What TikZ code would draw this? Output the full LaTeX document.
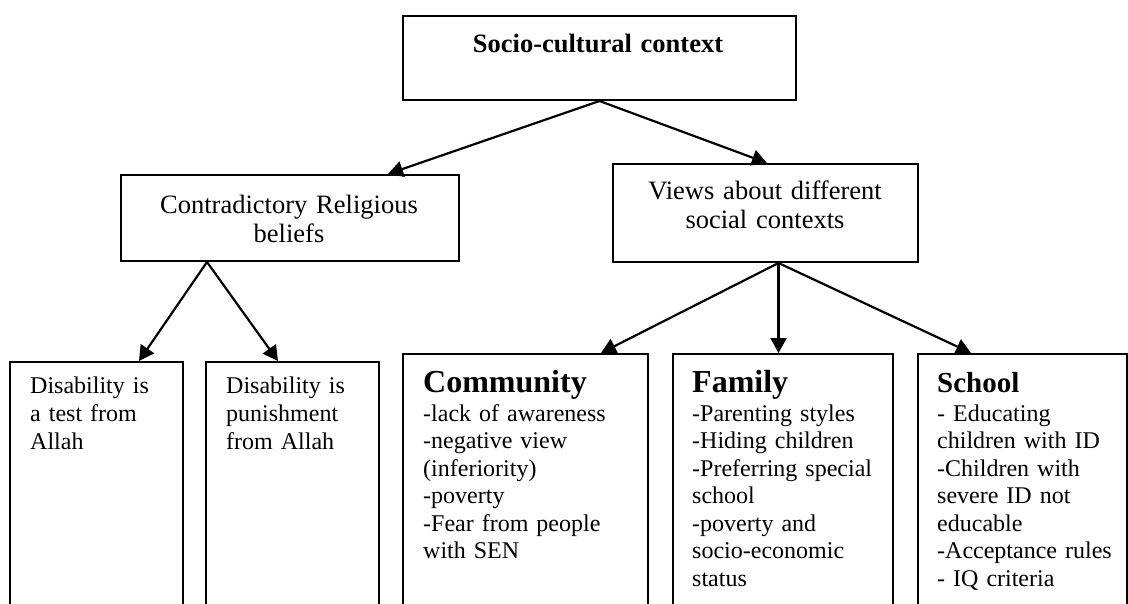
\documentclass[tikz,border=0pt]{standalone}
\usepackage{fontspec}
\setmainfont{Liberation Serif}
\usetikzlibrary{arrows.meta}
\begin{document}
\begin{tikzpicture}[x=1pt,y=-1pt,
  box/.style={draw,line width=2pt,inner sep=0pt,anchor=north west},
  arr/.style={line width=2.2pt,-{Triangle[length=15pt,width=16pt]}},
  upper/.style={font=\fontsize{26.5}{29.5}\selectfont,align=center,
    text width=330pt,inner sep=0pt,anchor=base},
  head/.style={font=\fontsize{32}{34}\selectfont\bfseries,inner sep=0pt,anchor=base west},
  body/.style={font=\fontsize{24}{27.5}\selectfont,align=left,
    text width=230pt,inner sep=0pt,anchor=base west},
]
\useasboundingbox (0,0) rectangle (1128,603);
\clip (0,0) rectangle (1128,603);

% boxes
\node[box,minimum width=393pt,minimum height=84pt] (top) at (402,15) {};
\node[box,minimum width=338pt,minimum height=86pt] (rel) at (120,174) {};
\node[box,minimum width=305pt,minimum height=98pt] (views) at (612,163) {};
\node[box,minimum width=173pt,minimum height=300pt] (d1) at (9,361) {};
\node[box,minimum width=173pt,minimum height=300pt] (d2) at (205,361) {};
\node[box,minimum width=245pt,minimum height=300pt] (comm) at (402,353) {};
\node[box,minimum width=220pt,minimum height=300pt] (fam) at (672,353) {};
\node[box,minimum width=209pt,minimum height=300pt] (sch) at (917,353) {};

% upper texts
\node[upper,font=\fontsize{26.5}{29.5}\selectfont\bfseries] (top-t) at (598,52) {Socio-cultural context};
\node[upper] (rel-t) at (289,213) {Contradictory Religious\\beliefs};
\node[upper] (views-t) at (765,199) {Views about different\\social contexts};

% lower texts
\node[body,font=\fontsize{24}{28}\selectfont] (d1-t) at (30,393) {Disability is\\a test from\\Allah};
\node[body,font=\fontsize{24}{28}\selectfont] (d2-t) at (226,393) {Disability is\\punishment\\from Allah};

\node[head] (comm-h) at (423,392) {Community};
\node[body] (comm-t) at (423,421) {-lack of awareness\\-negative view\\(inferiority)\\-poverty\\-Fear from people\\with SEN};

\node[head] (fam-h) at (692,392) {Family};
\node[body] (fam-t) at (692,421) {-Parenting styles\\-Hiding children\\-Preferring special\\school\\-poverty and\\socio-economic\\status};

\node[head,font=\fontsize{29}{31}\selectfont\bfseries] (sch-h) at (937,392) {School};
\node[body] (sch-t) at (937,421) {- Educating\\children with ID\\-Children with\\severe ID not\\educable\\-Acceptance rules\\- IQ criteria};

% connectors
\draw[arr] (top.south) -- ([xshift=98pt]rel.north);
\draw[arr] (top.south) -- ([xshift=1.5pt]views.north);
\draw[arr] ([xshift=-83pt]rel.south) -- ([xshift=42.5pt]d1.north);
\draw[arr] ([xshift=-83pt]rel.south) -- ([xshift=-14.5pt]d2.north);
\draw[arr] ([xshift=13pt]views.south) -- ([xshift=75.5pt]comm.north);
\draw[arr] ([xshift=13pt]views.south) -- ([xshift=-4.5pt]fam.north);
\draw[arr] ([xshift=13pt]views.south) -- ([xshift=-51.5pt]sch.north);
\end{tikzpicture}
\end{document}
